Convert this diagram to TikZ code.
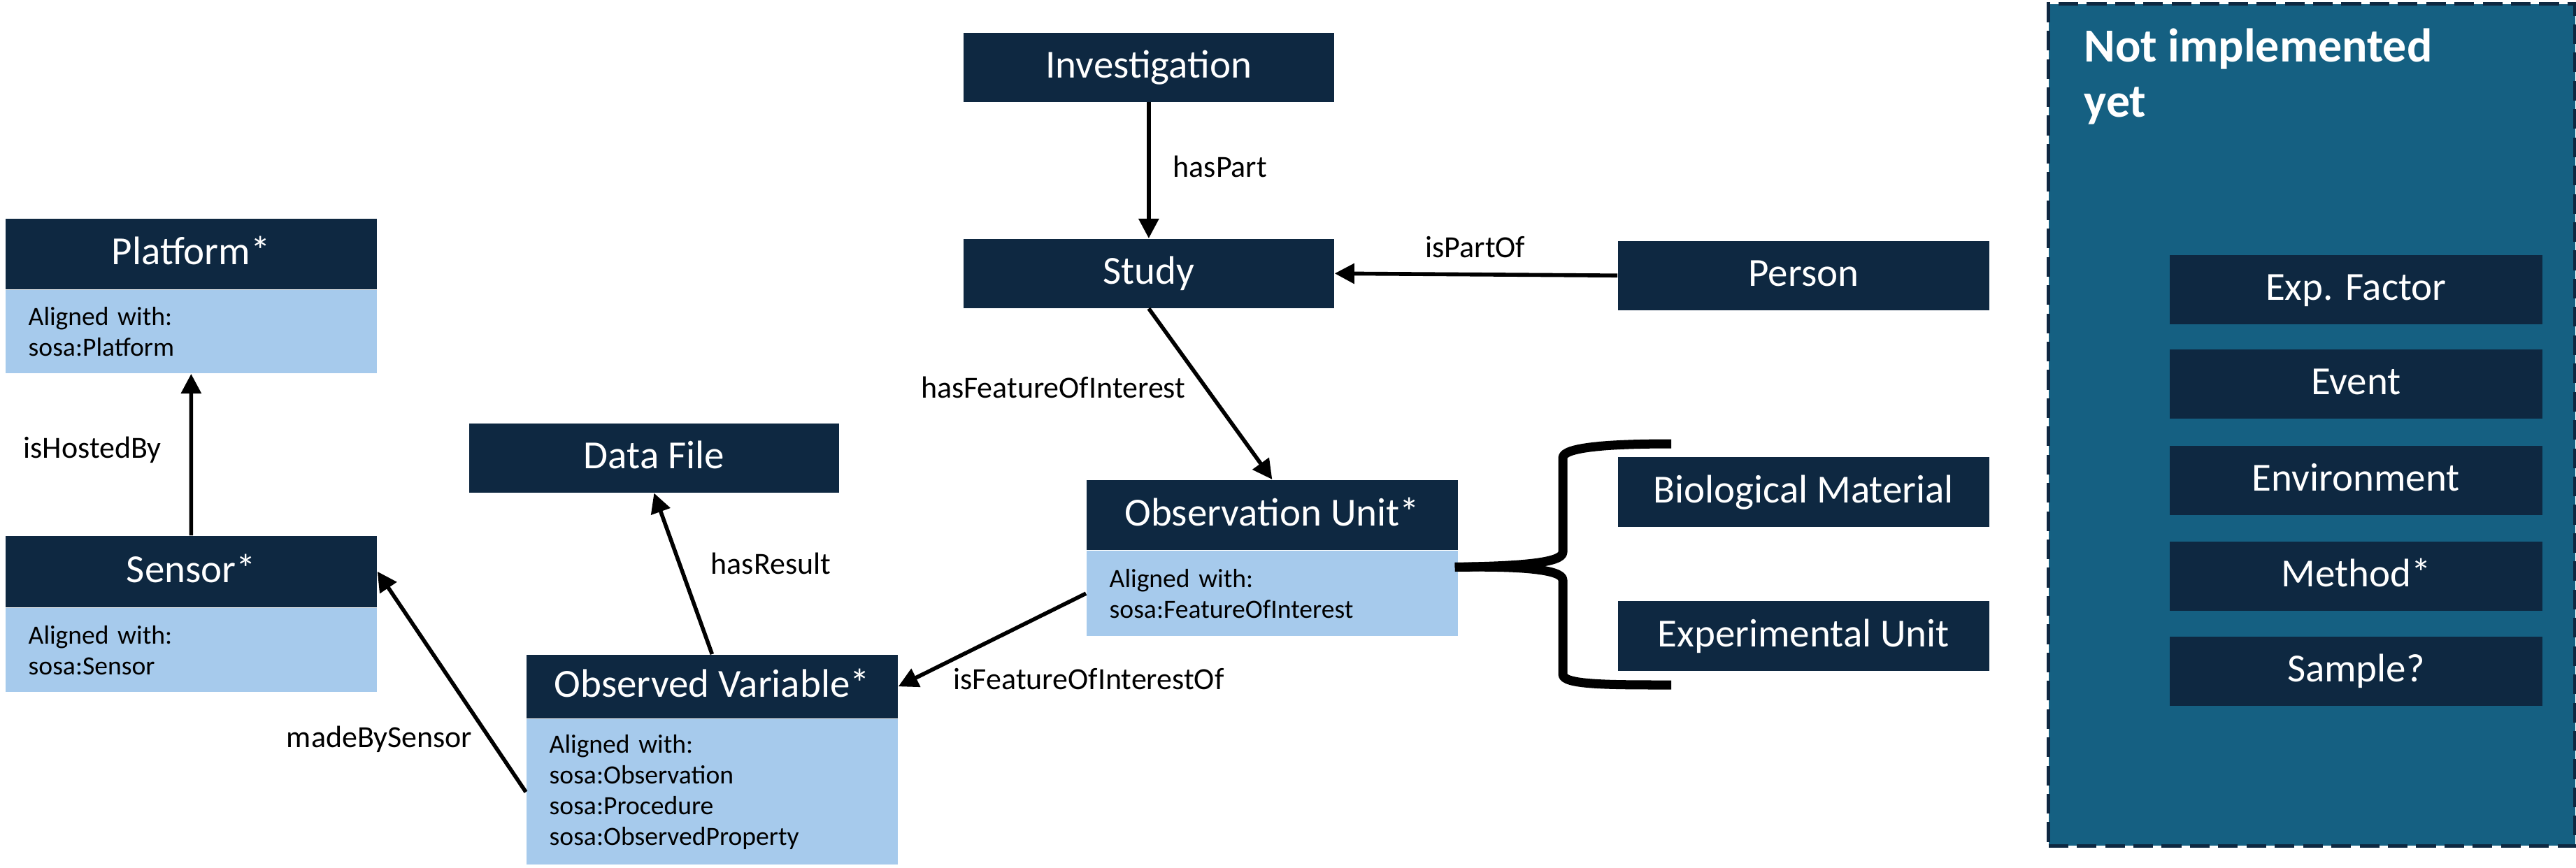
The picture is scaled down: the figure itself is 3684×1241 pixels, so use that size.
\documentclass[tikz,border=0pt]{standalone}
\usepackage{fontspec}
\setmainfont{Carlito}
\usetikzlibrary{arrows.meta,calc}
\definecolor{navy}{HTML}{0E2841}
\definecolor{lightblue}{HTML}{A6CAEC}
\definecolor{panelblue}{HTML}{156082}
\begin{document}
\begin{tikzpicture}[x=0.01cm,y=-0.01cm,
  hdr/.style={fill=navy, text=white, minimum width=5.31cm, minimum height=#1, inner sep=0pt,
    font=\fontsize{16.2}{19}\selectfont, text height=0.89em, text depth=0pt, anchor=north west},
  hdr/.default=1cm,
  body/.style={fill=lightblue, text=black, anchor=north west, text width=4.65cm, inner xsep=0.33cm,
    inner ysep=0pt, align=left, minimum height=#1, font=\fontsize{10.7}{12.5}\selectfont},
  conn/.style={-{Triangle[length=8pt,width=8pt]}, line width=1.6pt, black},
  lbl/.style={font=\fontsize{12.5}{15}\selectfont, inner sep=0pt},
  pbox/.style={hdr=0.99cm, minimum width=5.33cm},
  bracestroke/.style={line width=3.7pt, line join=round, line cap=butt}
]
\useasboundingbox (0,0) rectangle (3684,1241);

% right panel
\node[draw=navy, fill=panelblue, dash pattern=on 8pt off 3.5pt, line width=1.5pt,
  minimum width=7.53cm, minimum height=12.04cm, anchor=north west, inner sep=0pt] (panel) at (2927,3) {};
\node[font=\bfseries\fontsize{19.3}{22.5}\selectfont, text=white, align=left, anchor=north west, inner sep=0pt]
  (ttl) at (2980,40) {Not implemented\\yet};
\node[pbox] (ef) at (3102,364) {Exp. Factor};
\node[pbox] (ev) at (3102,499) {Event};
\node[pbox] (en) at (3102,637) {Environment};
\node[pbox] (me) at (3102,774) {Method*};
\node[pbox] (sa) at (3102,910) {Sample?};

% main boxes
\node[hdr=0.99cm, minimum width=5.30cm] (inv) at (1377,46) {Investigation};
\node[hdr=0.99cm, minimum width=5.30cm] (study) at (1377,341) {Study};
\node[hdr=0.99cm] (person) at (2313,344) {Person};
\node[hdr=1.0cm] (bio) at (2313,653) {Biological Material};
\node[hdr=1.0cm] (exu) at (2313,859) {Experimental Unit};
\node[hdr=0.99cm, minimum width=5.29cm] (df) at (670,605) {Data File};

\node[hdr=1.01cm] (pfh) at (7,312) {Platform*};
\node[body=1.19cm] (pfb) at (pfh.south west) {Aligned with:\\sosa:Platform};

\node[hdr=1.02cm] (seh) at (7,766) {Sensor*};
\node[body=1.20cm] (seb) at (seh.south west) {Aligned with:\\sosa:Sensor};

\node[hdr=1.0cm] (ouh) at (1553,686) {Observation Unit*};
\node[body=1.22cm] (oub) at (ouh.south west) {Aligned with:\\sosa:FeatureOfInterest};

\node[hdr=0.91cm] (ovh) at (752,936) {Observed Variable*};
\node[body=2.08cm] (ovb) at (ovh.south west) {Aligned with:\\sosa:Observation\\sosa:Procedure\\sosa:ObservedProperty};

% connectors
\draw[conn] (inv.south) -- (study.north);
\draw[conn] (person.west) -- (study.east);
\draw[conn] (study.south) -- (ouh.north);
\draw[conn] (oub.west) -- (ovh.east);
\draw[conn] (ovh.north) -- (df.south);
\draw[conn] (ovb.west) -- (seh.east);
\draw[conn] (seh.north) -- (pfb.south);

% labels
\node[lbl, anchor=base west] (l1) at (1677,253) {hasPart};
\node[lbl, anchor=base] (l2) at (2110,368) {isPartOf};
\node[lbl, anchor=base east] (l3) at (1696,569) {hasFeatureOfInterest};
\node[lbl, anchor=base west] (l4) at (1363,986) {isFeatureOfInterestOf};
\node[lbl, anchor=base west] (l5) at (1016,821) {hasResult};
\node[lbl, anchor=base east] (l6) at (676,1069) {madeBySensor};
\node[lbl, anchor=base west] (l7) at (33,655) {isHostedBy};

% brace
\coordinate (bt) at ($(oub.north east)+(-5,24)$);
\coordinate (btop) at (2390,635);
\coordinate (bbot) at (2390,980);
\draw[bracestroke] (bt) .. controls (2170,810) and (2235,806) .. (2235,790) -- (2235,655)
  .. controls (2235,640) and (2300,635) .. (btop);
\draw[bracestroke] (bt) .. controls (2170,810) and (2235,814) .. (2235,830) -- (2235,965)
  .. controls (2235,980) and (2300,980) .. (bbot);
\end{tikzpicture}
\end{document}
